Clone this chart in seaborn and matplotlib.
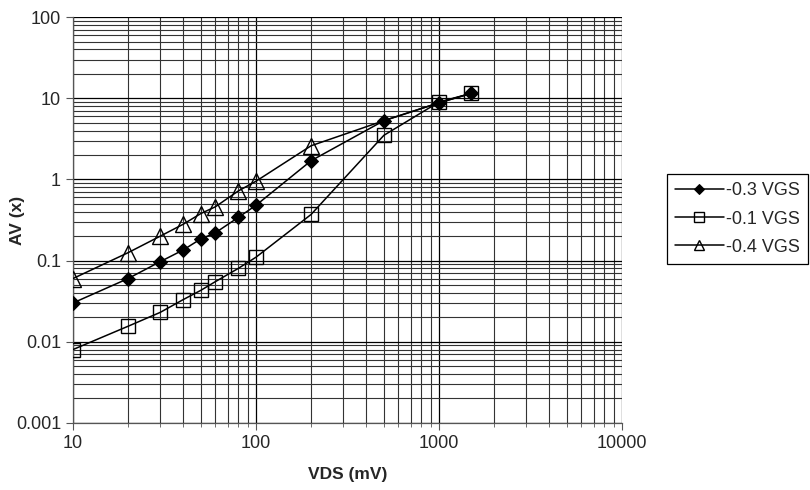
import numpy as np
import pandas as pd
import matplotlib
matplotlib.use("Agg")
import matplotlib.pyplot as plt
import matplotlib.ticker as mticker
import seaborn as sns

# VDS in mV
vds = [10, 20, 30, 40, 50, 60, 80, 100, 200, 500, 1000, 1500]

# AV (x) for each gate voltage
av_03 = [0.030, 0.060, 0.097, 0.135, 0.185, 0.22, 0.34, 0.48, 1.7, 5.3, 8.8, 11.5]
av_01 = [0.008, 0.0155, 0.023, 0.033, 0.043, 0.055, 0.080, 0.11, 0.37, 3.5, 9.0, 11.5]
av_04 = [0.060, 0.125, 0.20, 0.28, 0.38, 0.46, 0.72, 0.95, 2.6, 5.3, 8.8, 11.5]

labels = ["-0.3 VGS", "-0.1 VGS", "-0.4 VGS"]

sns.set_style("white")
plt.rcParams["font.family"] = ["Liberation Sans", "DejaVu Sans"]

fig = plt.figure(figsize=(8.1, 4.9), dpi=100)
ax = fig.add_axes([0.090, 0.137, 0.678, 0.828])

sns.lineplot(x=vds, y=av_03, ax=ax, color="black", lw=1.1, marker="D",
             markersize=7, markerfacecolor="black", markeredgecolor="black",
             label=labels[0], zorder=3)
sns.lineplot(x=vds, y=av_01, ax=ax, color="black", lw=1.1, marker="s",
             markersize=10, markerfacecolor="none", markeredgecolor="black",
             markeredgewidth=1, label=labels[1], zorder=3)
sns.lineplot(x=vds, y=av_04, ax=ax, color="black", lw=1.1, marker="^",
             markersize=11, markerfacecolor="none", markeredgecolor="black",
             markeredgewidth=1, markevery=list(range(9)), label=labels[2], zorder=3)

ax.set_xscale("log")
ax.set_yscale("log")
ax.set_xlim(10, 10000)
ax.set_ylim(0.001, 100)

ax.xaxis.set_major_locator(mticker.LogLocator(base=10))
ax.yaxis.set_major_locator(mticker.LogLocator(base=10))
ax.xaxis.set_minor_locator(mticker.LogLocator(base=10, subs=np.arange(2, 10)))
ax.yaxis.set_minor_locator(mticker.LogLocator(base=10, subs=np.arange(2, 10)))
ax.xaxis.set_major_formatter(mticker.FuncFormatter(lambda v, p: f"{v:g}"))
ax.yaxis.set_major_formatter(mticker.FuncFormatter(lambda v, p: f"{v:g}"))
ax.yaxis.set_minor_formatter(mticker.NullFormatter())
ax.xaxis.set_minor_formatter(mticker.NullFormatter())

ax.grid(which="major", color="black", lw=0.9)
ax.grid(which="minor", color="#333333", lw=0.8)
ax.set_axisbelow(True)

ax.tick_params(axis="both", which="major", direction="out", length=5,
               width=0.8, color="#555555", labelsize=13, bottom=True, left=True)
ax.tick_params(axis="x", which="minor", direction="out", length=3,
               width=0.6, color="#555555", bottom=True)
ax.tick_params(axis="y", which="minor", left=False)

for side in ["top", "right"]:
    ax.spines[side].set_visible(False)
for side in ["left", "bottom"]:
    ax.spines[side].set_color("#555555")
    ax.spines[side].set_linewidth(0.9)

ax.set_xlabel("VDS (mV)", fontsize=12.5, fontweight="bold")
ax.set_ylabel("AV (x)", fontsize=12.5, fontweight="bold")
ax.xaxis.set_label_coords(0.5, -0.108)
ax.yaxis.set_label_coords(-0.088, 0.5)

leg = ax.legend(loc="center left", bbox_to_anchor=(0.823, 0.553),
                bbox_transform=fig.transFigure, borderaxespad=0, frameon=True,
                fancybox=False, edgecolor="black", framealpha=1, fontsize=13,
                handlelength=2.7, handletextpad=0.15, labelspacing=0.62,
                borderpad=0.45, markerscale=0.7)
leg.get_frame().set_linewidth(0.9)

fig.savefig("out.png", dpi=100)
